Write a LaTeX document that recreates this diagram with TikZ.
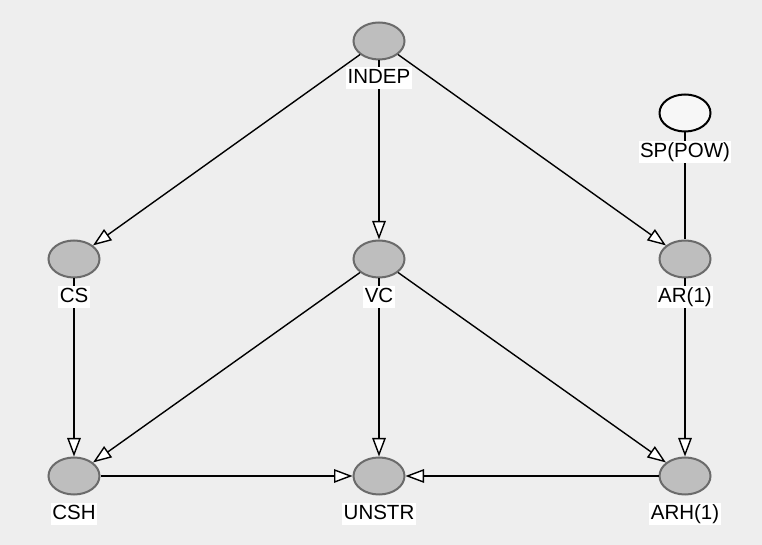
\documentclass[tikz,border=0pt]{standalone}
\usepackage{fontspec}
\setmainfont{Liberation Sans}
\usetikzlibrary{arrows.meta,shapes.geometric}
\definecolor{bg}{HTML}{EEEEEE}
\definecolor{nodefill}{HTML}{BEBEBE}
\definecolor{nodeline}{HTML}{6B6B6B}
\begin{document}
\begin{tikzpicture}[x=1pt,y=1pt,
  gnode/.style={ellipse,draw=nodeline,fill=nodefill,line width=2pt,minimum width=51pt,minimum height=37pt,inner sep=0pt},
  wnode/.style={ellipse,draw=black,fill=white!97!black,line width=2pt,minimum width=51pt,minimum height=37pt,inner sep=0pt},
  lbl/.style={fill=white,inner sep=1.5pt,font=\fontsize{20.5}{22}\selectfont,text height=15pt,text depth=4pt},
  edge/.style={draw=black,line width=1.4pt,-{Triangle[open,length=18.5pt,width=13.5pt,fill=white]}},
  plain/.style={draw=black,line width=1.4pt}]
\fill[bg] (0,0) rectangle (762,545);
\useasboundingbox (0,0) rectangle (762,545);
% nodes
\node[gnode] (indep) at (379,504) {};
\node[wnode] (sp) at (685,432) {};
\node[gnode] (cs) at (74,286) {};
\node[gnode] (vc) at (379,286) {};
\node[gnode] (ar) at (685,286) {};
\node[gnode] (csh) at (74,69) {};
\node[gnode] (unstr) at (379,69) {};
\node[gnode] (arh) at (685,69) {};
% edges
\draw[edge] (indep) -- (cs);
\draw[edge] (indep) -- (vc);
\draw[edge] (indep) -- (ar);
\draw[plain] (sp) -- (ar);
\draw[edge] (cs) -- (csh);
\draw[edge] (vc) -- (csh);
\draw[edge] (vc) -- (unstr);
\draw[edge] (vc) -- (arh);
\draw[edge] (ar) -- (arh);
\draw[edge] (csh) -- (unstr);
\draw[edge] (arh) -- (unstr);
% labels
\node[lbl] (lindep) at (379,467) {INDEP};
\node[lbl] (lsp) at (685,393) {SP(POW)};
\node[lbl] (lcs) at (74,248) {CS};
\node[lbl] (lvc) at (379,248) {VC};
\node[lbl] (lar) at (685,248) {AR(1)};
\node[lbl] (lcsh) at (74,31) {CSH};
\node[lbl] (lunstr) at (379,31) {UNSTR};
\node[lbl] (larh) at (685,31) {ARH(1)};
\end{tikzpicture}
\end{document}
